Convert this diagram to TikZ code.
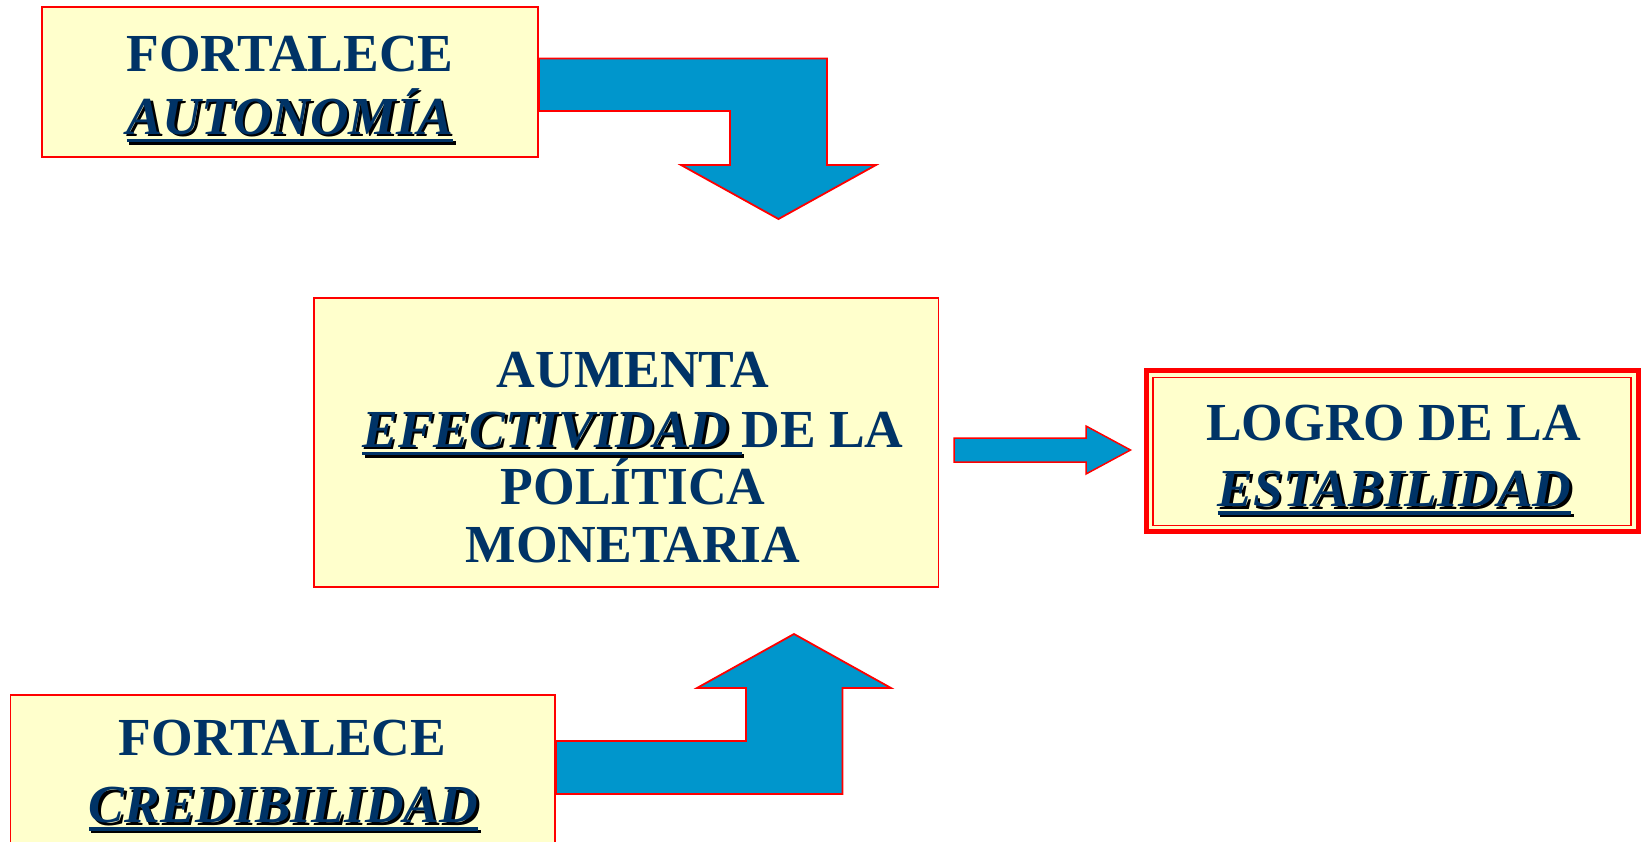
\documentclass[tikz,border=0pt]{standalone}
\usepackage{fontspec}
\setmainfont{Liberation Serif}
\definecolor{navy}{RGB}{0,51,102}
\definecolor{boxyel}{RGB}{255,255,204}
\definecolor{arrblue}{RGB}{0,150,204}
\definecolor{bred}{RGB}{255,0,0}
\newcommand\ulw[1]{\setbox0=\hbox{#1}\makebox[0pt][l]{\rule[-8pt]{\wd0}{3.5pt}}\box0}
\newcommand\shd[1]{\makebox[0pt][l]{\hspace{2.5pt}\raisebox{-2.5pt}{\color{black}#1}}#1}
\begin{document}
\begin{tikzpicture}[x=1pt,y=-1pt,
  box/.style={draw=bred, line width=1.8pt, fill=boxyel, inner sep=0pt, rectangle},
  txt/.style={anchor=base, text=navy, font=\fontsize{53.5}{60}\selectfont\bfseries, inner sep=0pt},
  bigarrow/.style={fill=arrblue, draw=bred, line width=1.8pt, line join=miter}]
\useasboundingbox (0,0) rectangle (1641,841);
% boxes
\node[box, minimum width=496pt, minimum height=150pt] (b1) at (290,82) {};
\node[box, minimum width=624.5pt, minimum height=289pt] (b2) at (626.25,442.5) {};
\node[box, line width=5pt, minimum width=492pt, minimum height=161.5pt] (b3) at (1392.5,450.75) {};
\node[draw=bred, line width=1.5pt, inner sep=0pt, minimum width=478pt, minimum height=148pt] (b3in) at (1392,451.5) {};
\node[box, minimum width=544.5pt, minimum height=170pt] (b4) at (282.75,780) {};
% arrows
\draw[bigarrow] (b1.east |- 0,58.5) -- (827,58.5) -- (827,165) -- (876,165) -- (778.5,219)
  -- (681,165) -- (730,165) -- (730,111) -- (b1.east |- 0,111) -- cycle;
\draw[bigarrow] (b4.east |- 0,741) -- (746,741) -- (746,688) -- (697,688) -- (794,634)
  -- (891,688) -- (842.5,688) -- (842.5,794) -- (b4.east |- 0,794) -- cycle;
\draw[bigarrow, line width=1.5pt] (954,438) -- (1086,438) -- (1086,426) -- (1130.5,450)
  -- (1086,474) -- (1086,462) -- (954,462) -- cycle;
% texts
\node[txt] (t1a) at (290,71) {FORTALECE};
\node[txt] (t1b) at (290,134) {\shd{\ulw{\itshape AUTONOMÍA}}};
\node[txt] (t2a) at (633,387) {AUMENTA};
\node[txt] (t2b) at (633,447) {\shd{\ulw{\itshape EFECTIVIDAD\ }}DE LA};
\node[txt] (t2c) at (633,504.5) {POLÍTICA};
\node[txt] (t2d) at (633,562) {MONETARIA};
\node[txt] (t3a) at (1393.5,440) {LOGRO DE LA};
\node[txt] (t3b) at (1394.5,506.5) {\shd{\ulw{\itshape ESTABILIDAD}}};
\node[txt] (t4a) at (282.5,755) {FORTALECE};
\node[txt] (t4b) at (283.5,822.5) {\shd{\ulw{\itshape CREDIBILIDAD}}};
\end{tikzpicture}
\end{document}
